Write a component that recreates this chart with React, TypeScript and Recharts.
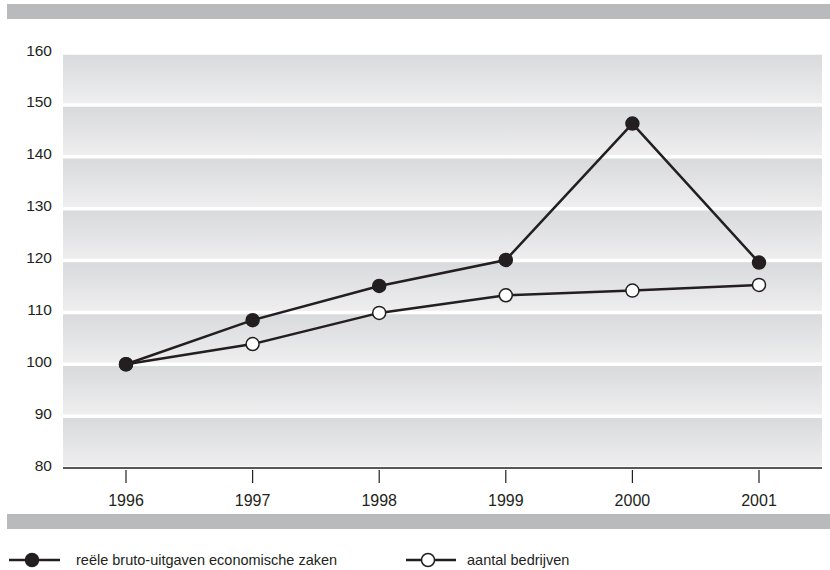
import React from "react";
import { LineChart, Line, XAxis, YAxis, CartesianGrid } from "recharts";

const years = ["1996", "1997", "1998", "1999", "2000", "2001"];
const uitgaven = [100, 108.5, 115.1, 120.1, 146.4, 119.6];
const bedrijven = [100, 103.9, 109.9, 113.3, 114.2, 115.3];
const yTicks = [80, 90, 100, 110, 120, 130, 140, 150, 160];

const seriesNames = ["reële bruto-uitgaven economische zaken", "aantal bedrijven"];

const data = years.map((y, i) => ({ year: y, a: uitgaven[i], b: bedrijven[i] }));

const INK = "#231f20";
const FONT = "'Liberation Sans', Arial, sans-serif";

const YTick = (props: any) => {
  const { y, payload } = props;
  return (
    <text x={52} y={y + 2.5} textAnchor="end" fontSize={15.5} fill={INK} fontFamily={FONT}>
      {payload.value}
    </text>
  );
};

const XTick = (props: any) => {
  const { x, y, payload } = props;
  return (
    <g>
      <line x1={x} x2={x} y1={y - 6} y2={y + 7} stroke={INK} strokeWidth={1.2} />
      <text x={x} y={y + 30} textAnchor="middle" fontSize={16} fill={INK} fontFamily={FONT}>
        {payload.value}
      </text>
    </g>
  );
};

export default function App() {
  return (
    <div style={{ position: "absolute", left: 0, top: 0, width: 830, height: 570, background: "#fff", overflow: "hidden" }}>
      <div style={{ position: "absolute", left: 7, top: 4, width: 823, height: 15, background: "#b9babc" }} />
      <div style={{ position: "absolute", left: 7, top: 514, width: 823, height: 15, background: "#b9babc" }} />
      <div style={{ position: "absolute", left: 0, top: 0 }}>
        <LineChart width={830} height={520} data={data} margin={{ top: 53, right: 8, bottom: 22, left: 0 }}>
          <defs>
            <linearGradient id="band" x1="0" y1="0" x2="0" y2="1">
              <stop offset="0%" stopColor="#d8d9db" />
              <stop offset="100%" stopColor="#efeff0" />
            </linearGradient>
          </defs>
          <CartesianGrid
            vertical={false}
            stroke="#ffffff"
            strokeWidth={3.5}
            horizontalFill={["url(#band)"]}
            fillOpacity={1}
          />
          <XAxis
            dataKey="year"
            padding={{ left: 63, right: 63 }}
            axisLine={{ stroke: INK, strokeWidth: 1.5 }}
            tickLine={false}
            tick={<XTick />}
            height={30}
          />
          <YAxis
            domain={[80, 160]}
            ticks={yTicks}
            axisLine={false}
            tickLine={false}
            tick={<YTick />}
            width={63}
            interval={0}
          />
          <Line
            dataKey="b"
            name={seriesNames[1]}
            stroke={INK}
            strokeWidth={2.5}
            dot={{ r: 6.5, fill: "#fff", stroke: INK, strokeWidth: 1.5 }}
            isAnimationActive={false}
          />
          <Line
            dataKey="a"
            name={seriesNames[0]}
            stroke={INK}
            strokeWidth={2.5}
            dot={{ r: 6.5, fill: INK, stroke: INK, strokeWidth: 1.5 }}
            isAnimationActive={false}
          />
        </LineChart>
      </div>
      <svg style={{ position: "absolute", left: 0, top: 540 }} width={830} height={30}>
        <line x1={9} x2={60} y1={20} y2={20} stroke={INK} strokeWidth={2.5} />
        <circle cx={32} cy={20} r={6.5} fill={INK} stroke={INK} strokeWidth={1.5} />
        <text x={76} y={25} fontSize={14.5} fill={INK} fontFamily={FONT}>{seriesNames[0]}</text>
        <line x1={406} x2={456} y1={20} y2={20} stroke={INK} strokeWidth={2.5} />
        <circle cx={428} cy={20} r={6.5} fill="#fff" stroke={INK} strokeWidth={1.5} />
        <text x={467} y={25} fontSize={14.5} fill={INK} fontFamily={FONT}>{seriesNames[1]}</text>
      </svg>
    </div>
  );
}
